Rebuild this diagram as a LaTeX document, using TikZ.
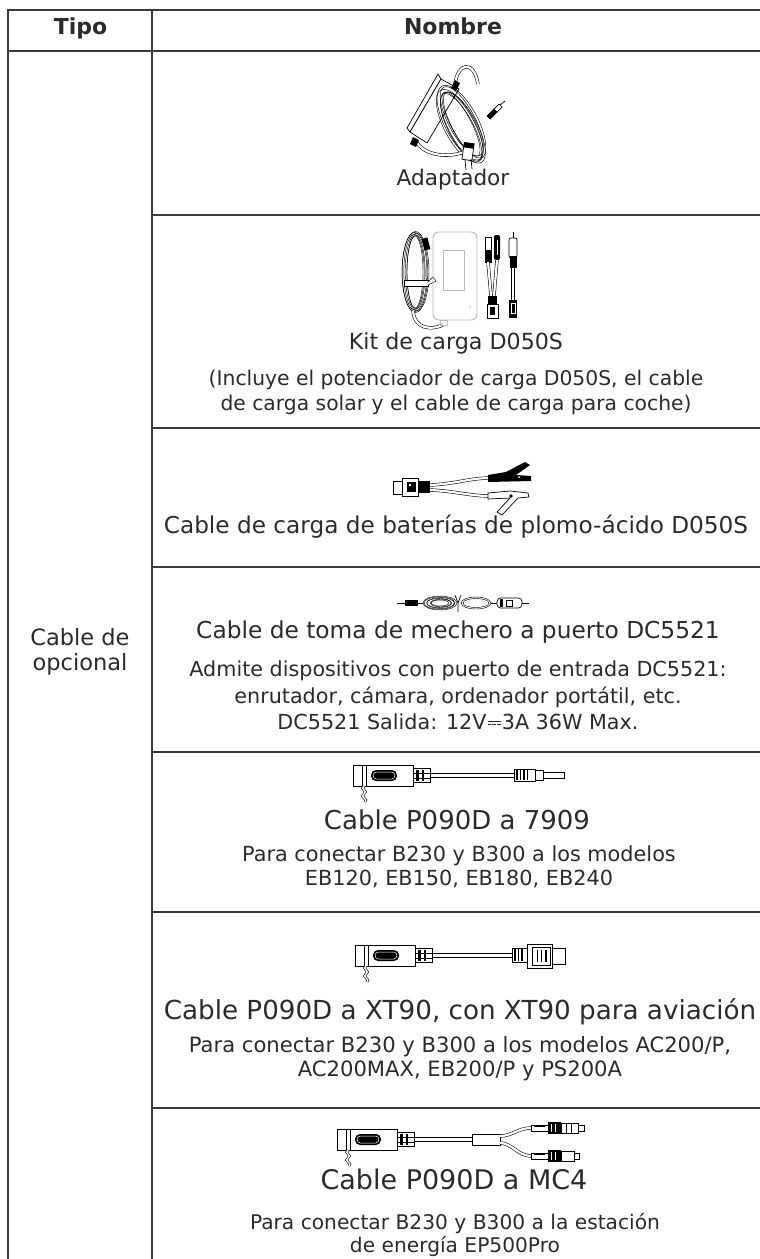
\documentclass[tikz,border=0pt]{standalone}
\usepackage{fontspec}
\setmainfont{DejaVu Sans}
\usetikzlibrary{calc}
\definecolor{ln}{HTML}{3A3A3A}
\definecolor{tx}{HTML}{2B2B2B}
\newcommand\fsz[1]{\fontsize{#1}{#1}\selectfont}
\newcommand\dcsym{\kern0.06em\raisebox{0.36em}{\rlap{\rule{0.62em}{0.065em}}}\raisebox{0.22em}{\rule{0.17em}{0.065em}\kern0.055em\rule{0.17em}{0.065em}\kern0.055em\rule{0.17em}{0.065em}}\kern0.06em}
\tikzset{
  tabline/.style={draw=ln, line width=1.7pt},
  lbl/.style={text=tx, inner sep=0pt, anchor=mid},
  art/.style={draw=black, line width=0.7pt},
  thinart/.style={draw=black, line width=0.45pt},
  cab/.style={draw=black, line width=0.55pt, double=white, double distance=2.2pt},
  pzero/.pic={
    \draw[art, fill=white] (0,0) rectangle (60,21);
    \draw[art] (9,0) -- (9,21) (13,0) -- (13,21);
    \fill[black, rounded corners=5pt] (18,5) rectangle (44,16);
    \draw[white, line width=0.5pt, rounded corners=3.5pt] (20,7) rectangle (42,14);
    \draw[black, line width=0.6pt, double=white, double distance=1.4pt]
      (11,21) .. controls (6,24) and (16,26) .. (11,29) .. controls (6,32) and (16,34) .. (12,37);
    \draw[art, fill=white] (60,3.5) rectangle (77,17.5);
    \fill (63,5) rectangle (65.5,16);
    \fill (68.5,5) rectangle (71,16);
    \draw[thinart] (60,8) -- (77,8) (60,13) -- (77,13);
  }
}
\begin{document}
\begin{tikzpicture}[x=1pt,y=-1pt]
\useasboundingbox (0,0) rectangle (760,1259);
% ---------- table rules ----------
\draw[tabline] (8,1259) -- (8,10) -- (760,10);
\draw[tabline] (8,51) -- (760,51);
\draw[tabline] (152,10) -- (152,1259);
\foreach \yy in {215,428,567,752,912,1108} \draw[tabline] (152,\yy) -- (760,\yy);
% ---------- header ----------
\node[lbl, font=\fsz{22}\bfseries] (htipo) at (80.5,31.5) {Tipo};
\node[lbl, font=\fsz{22}\bfseries] (hnombre) at (453,31.5) {Nombre};
\node[lbl, font=\fsz{22.5}] (tipoa) at (80,643) {Cable de};
\node[lbl, font=\fsz{22.5}] (tipob) at (80,668) {opcional};
% ---------- row 1 ----------
\node[lbl, font=\fsz{21.6}] (t1) at (453,183) {Adaptador};
% ---------- row 2 ----------
\node[lbl, font=\fsz{22.2}] (t2) at (456,347) {Kit de carga D050S};
\node[lbl, font=\fsz{20.3}] (d2a) at (456,383) {(Incluye el potenciador de carga D050S, el cable};
\node[lbl, font=\fsz{20.3}] (d2b) at (456,408) {de carga solar y el cable de carga para coche)};
% ---------- row 3 ----------
\node[lbl, font=\fsz{23.2}] (t3) at (456,531) {Cable de carga de baterías de plomo-ácido D050S};
% ---------- row 4 ----------
\node[lbl, font=\fsz{23.3}] (t4) at (458,636) {Cable de toma de mechero a puerto DC5521};
\node[lbl, font=\fsz{20.7}] (d4a) at (458,674) {Admite dispositivos con puerto de entrada DC5521:};
\node[lbl, font=\fsz{20.7}] (d4b) at (458,701) {enrutador, cámara, ordenador portátil, etc.};
\node[lbl, font=\fsz{20.7}] (d4c) at (458,727) {DC5521 Salida: 12V\dcsym3A 36W Max.};
% ---------- row 5 ----------
\node[lbl, font=\fsz{26}] (t5) at (457,827) {Cable P090D a 7909};
\node[lbl, font=\fsz{20.8}] (d5a) at (459,859) {Para conectar B230 y B300 a los modelos};
\node[lbl, font=\fsz{20.8}] (d5b) at (459,883) {EB120, EB150, EB180, EB240};
% ---------- row 6 ----------
\node[lbl, font=\fsz{26.2}] (t6) at (460,1017) {Cable P090D a XT90, con XT90 para aviación};
\node[lbl, font=\fsz{21.1}] (d6a) at (460,1050) {Para conectar B230 y B300 a los modelos AC200/P,};
\node[lbl, font=\fsz{21.1}] (d6b) at (460,1074) {AC200MAX, EB200/P y PS200A};
% ---------- row 7 ----------
\node[lbl, font=\fsz{27}] (t7) at (454,1187) {Cable P090D a MC4};
\node[lbl, font=\fsz{20.2}] (d7a) at (455,1227) {Para conectar B230 y B300 a la estación};
\node[lbl, font=\fsz{20.2}] (d7b) at (455,1250) {de energía EP500Pro};

% ================= illustrations =================
% --- adapter ---
\begin{scope}
\draw[art, fill=white] (407,128) -- (438,74) -- (441,79) -- (410,132) -- cycle;
\draw[art, fill=white] (410,132) -- (441,79) -- (459,89) -- (427,143) -- cycle;
\draw[cab] (455,84) .. controls (458,62) and (474,60) .. (478,84);
\fill (451,88) -- (455,80) -- (460,83) -- (456,91) -- cycle;
\foreach \i/\dx/\dy in {0/0/0,1/1.5/2,2/-1.5/3,3/2/-2,4/0/4,5/-2/1,6/1/-1}
  \draw[thinart, rotate around={28:(461,124)}] ($(461,124)+(\dx,\dy)$) ellipse [x radius={(10+\i*1.1)*1pt}, y radius={(36+\i*0.9)*1pt}];
\draw[cab] (416,141) .. controls (424,156) and (448,158) .. (464,152);
\fill (413,137) -- (419,140) -- (416,147) -- (410,144) -- cycle;
\draw[art, fill=black] (487,116) -- (494,109) -- (497,112) -- (490,119) -- cycle;
\draw[art, fill=white] (494,109) -- (499,104) -- (502,107) -- (497,112) -- cycle;
\draw[art] (500,105) -- (505,101);
\draw[art, fill=white, rotate around={-8:(468,152)}] (463,143) rectangle (473,160);
\fill[rotate around={-8:(468,152)}] (463,143) rectangle (473,148);
\draw[art] (465,160) -- (466,170) (471,159) -- (472,169);
\end{scope}
% --- charging kit ---
\begin{scope}
\foreach \i/\dx in {0/0,1/1,2/-1,3/1.5,4/-0.5,5/0.5}
  \draw[thinart] (415+\dx,272) ellipse [x radius={(8+\i*1.1)*1pt}, y radius={(36+\i*0.9)*1pt}];
\draw[art, fill=white] (404,280) rectangle (428,286);
\draw[thinart, fill=white] (428,282) -- (433,277) -- (436,281) -- (428,285);
\fill[rotate around={15:(426,244)}] (423,238) rectangle (429,250);
\draw[cab] (413,311) .. controls (415,330) and (432,330) .. (443,325);
\draw[draw=gray!55, line width=0.9pt, rounded corners=6pt] (433,232) rectangle (477,320);
\draw[draw=gray!55, line width=0.7pt] (443,250) rectangle (464,290);
\draw[draw=gray!55, line width=0.6pt] (440,320) rectangle (447,325);
\fill[gray!60] (470,307) circle (0.9pt);
% Y cable
\draw[art, fill=white] (485,237) rectangle (491,262);
\fill (485,250) rectangle (491,262);
\fill[rounded corners=2pt] (494,235) rectangle (500,260);
\draw[white, line width=0.5pt] (497,240) -- (497,255);
\draw[cab] (488,262) -- (491,296);
\draw[cab] (497,260) -- (494,296);
\fill (488,296) rectangle (497,304);
\draw[art, fill=white] (487,304) rectangle (498,318);
\fill (490,307) rectangle (495,315);
% car plug
\draw[art] (513,232) -- (513,238);
\draw[art, fill=white, rounded corners=2pt] (509,238) rectangle (517,258);
\fill (509.5,256) rectangle (516.5,268);
\draw[cab] (513,268) -- (513,300);
\fill (509,300) rectangle (517,318);
\draw[white, line width=0.5pt] (511,303) rectangle (515,313);
\end{scope}
% --- lead acid clips ---
\begin{scope}
\draw[art, fill=white] (393,481) rectangle (402,494);
\draw[art, fill=white] (402,478) rectangle (418,496);
\fill (407,482) rectangle (416,492);
\fill[white] (409,484) rectangle (411,486);
\fill (418,481) rectangle (430,493);
\draw[cab] (430,485) .. controls (455,484) and (470,478) .. (490,478);
\draw[cab] (430,490) .. controls (455,491) and (470,496) .. (490,496);
\fill (488,475) -- (506,472) -- (525,462) -- (530,465) -- (516,475) -- (531,476) -- (531,481) -- (488,482) -- cycle;
\fill[white] (519,477) circle (1pt);
\draw[art, fill=white] (488,493) -- (510,491) -- (528,493) -- (529,497) -- (518,498) -- (502,515) -- (497,512) -- (510,498) -- (488,499) -- cycle;
\fill (511,496) circle (1.8pt);
\end{scope}
% --- DC5521 car cable ---
\begin{scope}
\draw[art] (397,603) -- (405,603);
\fill (405,600) rectangle (418,606);
\draw[art] (418,603) -- (423,603);
\foreach \i/\dx in {0/0,1/1,2/-1,3/0.5,4/-0.5,5/0}
  \draw[thinart] (440+\dx,603) ellipse [x radius={(9+\i*1.6)*1pt}, y radius={(3+\i*0.8)*1pt}];
\draw[art] (455,595) -- (458,603) -- (461,595) (458,603) -- (458,612);
\draw[thinart] (476,603) ellipse [x radius=15pt, y radius=6pt];
\draw[thinart] (476,603) ellipse [x radius=13pt, y radius=4.5pt];
\draw[art] (491,603) -- (497,603);
\draw[art, fill=white, rounded corners=3.5pt] (497,598) rectangle (522,608);
\fill (500,599) rectangle (502.5,607);
\draw[art] (506,600) rectangle (512,606);
\draw[art] (522,603) -- (529,603);
\end{scope}
% --- P090D to 7909 ---
\pic at (353,765) {pzero};
\draw[thinart] (430,773) -- (514,773) (430,777) -- (514,777);
\draw[art, fill=white] (514,769) rectangle (535,781);
\foreach \xx in {516,519.5,523,526.5} \fill (\xx,770) rectangle ++(1.8,10);
\draw[art, fill=white] (535,770) rectangle (543,780);
\draw[art, fill=white] (543,772) rectangle (564,778);
% --- P090D to XT90 ---
\pic at (355,945) {pzero};
\draw[thinart] (432,953) -- (512,953) (432,957) -- (512,957);
\draw[art, fill=white] (512,948) rectangle (527,962);
\foreach \xx in {514,517.5,521} \fill (\xx,949) rectangle ++(1.8,12);
\draw[art, fill=white] (527,944) rectangle (552,968);
\draw[art] (532,947) rectangle (550,965);
\draw[art] (537,950) -- (537,962) (541,950) -- (541,962);
\fill (545,950) rectangle (547,962);
\draw[art, fill=white] (552,948) rectangle (565,964);
% --- P090D to MC4 ---
\pic at (337,1129) {pzero};
\draw[thinart] (414,1137) -- (472,1137) (414,1141) -- (472,1141);
\draw[art, fill=white] (472,1134) rectangle (500,1145);
\draw[cab] (500,1136) .. controls (512,1136) and (518,1128) .. (531,1128);
\draw[cab] (500,1143) .. controls (512,1143) and (518,1156) .. (531,1156);
\draw[thinart, fill=white] (531,1125) rectangle (548,1131);
\draw[thinart] (534,1126.5) -- (545,1126.5);
\draw[thinart, fill=white] (531,1153) rectangle (548,1159);
\draw[thinart] (534,1154.5) -- (545,1154.5);
\fill (548,1122) rectangle (561,1134);
\draw[white, line width=0.5pt] (551,1124) -- (551,1132) (555,1124) -- (555,1132);
\draw[art, fill=white] (561,1123) rectangle (578,1133);
\draw[art] (566,1123) -- (566,1133) (571,1123) -- (571,1133);
\draw[art, fill=white] (578,1125) rectangle (584,1131);
\fill (548,1150) rectangle (561,1162);
\draw[white, line width=0.5pt] (551,1152) -- (551,1160) (555,1152) -- (555,1160);
\draw[art, fill=white] (561,1151) rectangle (574,1161);
\draw[art, fill=white] (574,1153) rectangle (579,1159);
\end{tikzpicture}
\end{document}
